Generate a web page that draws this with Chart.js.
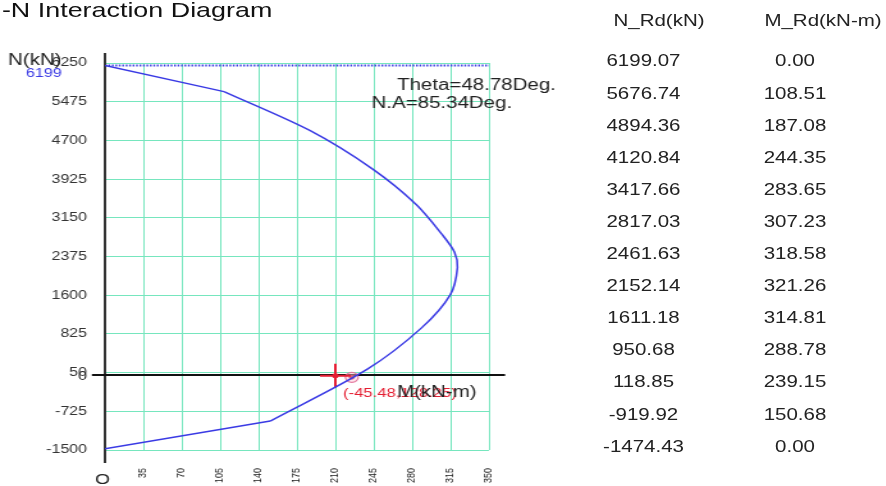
<!DOCTYPE html>
<html><head><meta charset="utf-8">
<script src="https://cdn.jsdelivr.net/npm/chart.js@4.4.0/dist/chart.umd.min.js"></script>
<style>
html,body{margin:0;padding:0;background:#fff;overflow:hidden;width:886px;height:486px;}
#page{position:absolute;left:0;top:0;width:692px;height:486px;transform:scaleX(1.28);transform-origin:0 0;font-family:"Liberation Sans",Arial,sans-serif;color:#222;}
#page canvas{position:absolute;left:0;top:0;}
.t{position:absolute;white-space:nowrap;line-height:1;}
</style></head><body>
<div id="page"><canvas id="c" width="470" height="486"></canvas></div>
<script>
// ---- data ----
const titleText = "-N Interaction Diagram";
const colHeaders = ["N_Rd(kN)", "M_Rd(kN-m)"];
const nRd = [6199.07, 5676.74, 4894.36, 4120.84, 3417.66, 2817.03, 2461.63, 2152.14, 1611.18, 950.68, 118.85, -919.92, -1474.43];
const mRd = [0.00, 108.51, 187.08, 244.35, 283.65, 307.23, 318.58, 321.26, 314.81, 288.78, 239.15, 150.68, 0.00];
const xTicks = [0, 35, 70, 105, 140, 175, 210, 245, 280, 315, 350];
const yTicks = [-1500, -725, 50, 825, 1600, 2375, 3150, 3925, 4700, 5475, 6250];
const nMaxLabel = 6199;
const crossPointM = [210];
const crossPointN = [-15];
const demandM = [225];
const demandN = [-45.48];
const demandLabel = "(-45.48,128.25)";
const thetaText = "Theta=48.78Deg.";
const naText = "N.A=85.34Deg.";
const xAxisTitle = "M(kN-m)";
const yAxisTitle = "N(kN)";
const originText = "O";

// ---- layout helpers ----
const S = 1.28; // horizontal stretch of the whole page
const FONT = '"Liberation Sans", Arial, sans-serif';
const page = document.getElementById('page');
function addText(txt, x, baseline, size, opts) {
  opts = opts || {};
  const d = document.createElement('div');
  d.className = 't';
  d.textContent = txt;
  d.style.fontSize = size + 'px';
  d.style.top = (baseline - 0.8465 * size) + 'px';
  d.style.left = x + 'px';
  if (opts.center) d.style.transform = 'translateX(-50%)';
  if (opts.color) d.style.color = opts.color;
  page.appendChild(d);
}
addText(titleText, 1.5, 17, 21, {color:'#111'});
addText(colHeaders[0], 659 / S, 27, 16, {center:true});
addText(colHeaders[1], 823 / S, 27, 16, {center:true});
nRd.forEach((n, i) => {
  const b = 67 + i * 32.1;
  addText(n.toFixed(2), 643.5 / S, b, 16, {center:true});
  addText(mRd[i].toFixed(2), 795 / S, b, 16, {center:true});
});

// ---- chart ----
const GRID = 'rgb(118,230,190)';
const BLUE = 'rgb(58,58,228)';
const RED = 'rgb(228,30,50)';

const overlay = {
  id: 'overlay',
  beforeDatasetsDraw(chart) {
    const {ctx, chartArea: a, scales: {x, y}} = chart;
    ctx.save();
    // dotted line at max N
    const yMax = y.getPixelForValue(nMaxLabel);
    ctx.strokeStyle = BLUE; ctx.lineWidth = 2; ctx.setLineDash([1.4, 1.3]);
    ctx.beginPath(); ctx.moveTo(x.getPixelForValue(0), yMax); ctx.lineTo(a.right, yMax); ctx.stroke();
    ctx.setLineDash([]);
    // black axes
    const x0 = x.getPixelForValue(0), y0 = y.getPixelForValue(0);
    ctx.strokeStyle = '#333'; ctx.lineWidth = 2;
    ctx.beginPath(); ctx.moveTo(x0, a.top - 10); ctx.lineTo(x0, a.bottom + 13); ctx.stroke();
    ctx.strokeStyle = '#111'; ctx.lineWidth = 2;
    ctx.beginPath(); ctx.moveTo(a.left - 10.2, y0); ctx.lineTo(a.right + 12.6, y0); ctx.stroke();
    ctx.restore();
  },
  afterDraw(chart) {
    const {ctx, chartArea: a, scales: {x, y}} = chart;
    ctx.save();
    ctx.textBaseline = 'alphabetic';
    // "0" label at N = 0 on y axis
    ctx.font = '12.5px ' + FONT; ctx.fillStyle = '#222'; ctx.textAlign = 'right';
    ctx.fillText('0', a.left - 14, y.getPixelForValue(0) + 4.5);
    // axis titles
    ctx.textAlign = 'left';
    ctx.font = '16px ' + FONT; ctx.fillStyle = '#222';
    ctx.fillText(yAxisTitle, 6.3, 65);
    ctx.fillStyle = BLUE; ctx.font = '12.6px ' + FONT;
    ctx.fillText(String(nMaxLabel), 20.3, y.getPixelForValue(nMaxLabel) + 11.5);
    ctx.fillStyle = '#222'; ctx.font = '16px ' + FONT;
    ctx.fillText(thetaText, 397 / S, 90);
    ctx.fillText(naText, 371.5 / S, 107.5);
    // demand label
    ctx.fillStyle = RED; ctx.font = '13px ' + FONT;
    ctx.fillText(demandLabel, 343 / S, 396.5);
    ctx.fillStyle = '#222'; ctx.font = '16px ' + FONT;
    ctx.fillText(xAxisTitle, 397 / S, 397);
    ctx.font = '15px ' + FONT; ctx.textAlign = 'center';
    ctx.fillText(originText, x.getPixelForValue(0) - 2, 484);
    ctx.restore();
  }
};

const curvePts = mRd.map((m, i) => ({x: m, y: nRd[i]}));
const lineStyle = {showLine: true, borderColor: BLUE, borderWidth: 1.5, pointRadius: 0, fill: false};

new Chart(document.getElementById('c'), {
  type: 'scatter',
  data: {
    datasets: [
      Object.assign({data: curvePts.slice(0, 2), tension: 0}, lineStyle),
      Object.assign({data: curvePts.slice(1, 12), tension: 0.3}, lineStyle),
      Object.assign({data: curvePts.slice(11), tension: 0}, lineStyle),
      {
        data: crossPointM.map((m, i) => ({x: m, y: crossPointN[i]})),
        pointStyle: 'cross', pointRadius: 12, borderColor: RED, borderWidth: 2, backgroundColor: RED
      },
      {
        data: crossPointM.map((m, i) => ({x: m, y: crossPointN[i]})),
        pointStyle: 'circle', pointRadius: 2.5, borderWidth: 0, backgroundColor: RED
      },
      {
        data: demandM.map((m, i) => ({x: m, y: demandN[i]})),
        pointStyle: 'circle', pointRadius: 5, borderWidth: 1.2,
        borderColor: 'rgba(225,110,150,0.9)', backgroundColor: 'rgba(255,200,215,0.45)'
      },
      {
        data: demandM.map((m, i) => ({x: m, y: demandN[i]})),
        pointStyle: 'circle', pointRadius: 2.3, borderWidth: 0, backgroundColor: 'rgb(190,20,40)'
      }
    ]
  },
  options: {
    responsive: false,
    animation: false,
    devicePixelRatio: 1,
    layout: {padding: {left: 0, right: 88, top: 63, bottom: 0}},
    plugins: {legend: {display: false}, tooltip: {enabled: false}, title: {display: false}},
    scales: {
      x: {
        type: 'linear', min: 0, max: 350,
        afterBuildTicks: s => { s.ticks = xTicks.map(v => ({value: v})); },
        afterFit: s => { s.height = 36; },
        grid: {color: GRID, lineWidth: 1, drawTicks: false},
        border: {display: false},
        ticks: {
          autoSkip: false, minRotation: 90, maxRotation: 90, padding: 18,
          font: {size: 9, family: FONT}, color: '#222',
          callback: v => (v === 0 ? '' : String(v))
        }
      },
      y: {
        type: 'linear', min: -1500, max: 6250,
        afterBuildTicks: s => { s.ticks = yTicks.map(v => ({value: v})); },
        afterFit: s => { s.width = 82; },
        grid: {color: GRID, lineWidth: 1, drawTicks: false},
        border: {display: false},
        ticks: {autoSkip: false, padding: 14, font: {size: 12.5, family: FONT}, color: '#333',
          callback: v => String(v)}
      }
    }
  },
  plugins: [overlay]
});
</script>
</body></html>
